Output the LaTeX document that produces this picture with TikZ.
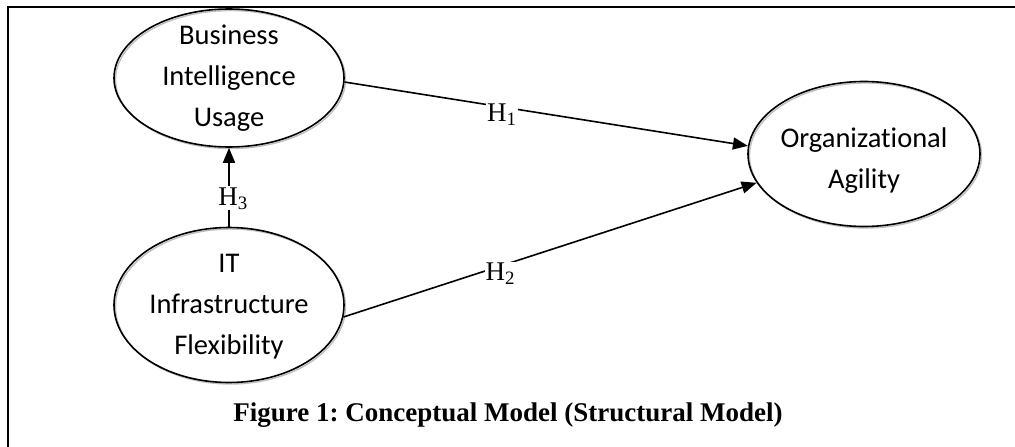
\documentclass[tikz,border=0pt]{standalone}
\usepackage{fontspec}
\setmainfont{Liberation Serif}
\newfontfamily\calibri[Ligatures=CommonOff]{Carlito}
\usetikzlibrary{shapes.geometric,arrows.meta}

\begin{document}
\begin{tikzpicture}[x=1pt,y=-1pt,
        construct/.style={ellipse,draw,line width=1.6pt,inner sep=0pt,
            preaction={draw=gray!50,line width=1.4pt,transform canvas={shift={(1.5pt,-1.5pt)}}}},
        inside/.style={align=center,font=\calibri\fontsize{28.5}{41}\selectfont},
        link/.style={line width=1.6pt,-{Triangle[length=15pt,width=12pt]}},
        hyp/.style={fill=white,inner sep=1pt,font=\fontsize{27}{27}\selectfont}]
        \useasboundingbox (0,0) rectangle (1015,447);
        \draw[line width=1.8pt] (8,7) rectangle (1040,470);
        \node[construct,minimum width=230pt,minimum height=138pt,
            label={[inside]center:Business\\Intelligence\\Usage}] (biu) at (229,78) {};
        \node[construct,minimum width=230pt,minimum height=155pt,
            label={[inside,yshift=-2pt]center:IT\\Infrastructure\\Flexibility}] (itif) at (229,305) {};
        \node[construct,minimum width=232pt,minimum height=145pt,
            label={[inside,yshift=-7pt]center:Organizational\\Agility}] (oa) at (864,154) {};
        \draw[link] (biu.-2) -- (oa.176) node[hyp,pos=0.39,yshift=-8pt] {H\textsubscript{1}};
        \draw[link] (itif.-6) -- (oa.195) node[hyp,pos=0.38,yshift=-8pt] {H\textsubscript{2}};
        \draw[link] (itif.north) -- (biu.south) node[hyp,pos=0.36,xshift=4pt] {H\textsubscript{3}};
        \node[font=\bfseries\fontsize{27}{27}\selectfont\frenchspacing,anchor=base] (caption) at (508,421)
            {Figure 1: Conceptual Model (Structural Model)};
    \end{tikzpicture}
\end{document}
